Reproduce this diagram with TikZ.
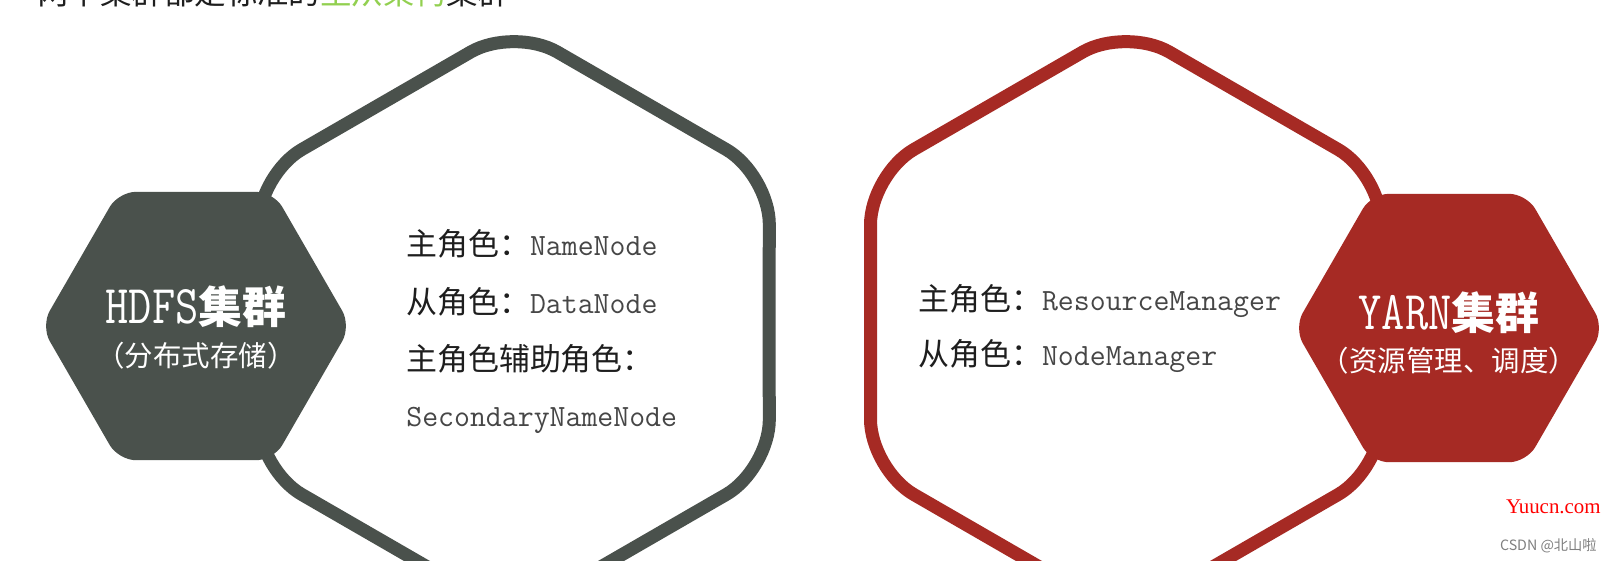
\documentclass[tikz,border=0pt]{standalone}
\usepackage{fontspec}
\setmainfont{Noto Sans CJK SC}
\newfontfamily\wmserif{Liberation Serif}

\definecolor{hdfsgray}{RGB}{74,81,76}
\definecolor{yarnred}{RGB}{166,42,36}
\definecolor{rolebk}{RGB}{30,30,30}
\definecolor{rolegray}{RGB}{70,70,70}
\definecolor{headgreen}{RGB}{146,208,80}
\definecolor{wmred}{RGB}{255,0,0}
\definecolor{wmgray}{RGB}{128,128,128}

\newcommand{\enrole}[1]{{\ttfamily\color{rolegray}#1}}
\newcommand{\entitle}[1]{\scalebox{0.95}[1.15]{\ttfamily\fontsize{27}{30}\selectfont #1}}

\begin{document}
\begin{tikzpicture}[x=0.02cm, y=0.02cm,
  roleline/.style={anchor=base west, text=rolebk, inner sep=0pt, font=\fontsize{17.6}{20}\selectfont},
  hextitle/.style={anchor=base, text=white, inner sep=0pt, font=\fontsize{25}{28}\selectfont},
  hexsub/.style={anchor=base, text=white, inner sep=0pt, font=\fontsize{16.2}{19}\selectfont}]

  % ---------------- frame ----------------
  \useasboundingbox (0,0) rectangle (1613,-561);
  \clip (0,0) rectangle (1613,-561);
  \fill[white] (0,0) rectangle (1613,-561);

  % heading, cut off by the top edge
  \node[anchor=base west, inner sep=0pt, text=rolebk, font=\fontsize{17.9}{20}\selectfont] (heading) at (37,-5)
    {两个集群都是标准的\textcolor{headgreen}{主从架构}集群};

  % ---------------- HDFS ----------------
  % big outline, pointy top
  \begin{scope}[shift={(514,-322)}]
    \draw[hdfsgray, line width=7.4pt, rounded corners=1cm] (255,0) \foreach \a in {30,90,...,330} { -- (\a:295) } -- cycle;
  \end{scope}
  % small filled badge, flat top
  \begin{scope}[shift={(196,-326)}]
    \fill[hdfsgray, rounded corners=0.35cm] (0,134) \foreach \a in {120,180,...,420} { -- (\a:155) } -- cycle;
  \end{scope}
  \node[hextitle] (hdfs) at (196,-323) {\entitle{HDFS}{\bfseries 集群}};
  \node[hexsub] (hdfssub) at (196,-366) {（分布式存储）};

  \node[roleline] (namenode) at (406,-255) {主角色：\enrole{NameNode}};
  \node[roleline] (datanode) at (406,-313) {从角色：\enrole{DataNode}};
  \node[roleline] (helper) at (406,-370) {主角色辅助角色：};
  \node[roleline] (secondary) at (406,-426) {\enrole{SecondaryNameNode}};

  % ---------------- YARN ----------------
  \begin{scope}[shift={(1126,-322)}]
    \draw[yarnred, line width=7.4pt, rounded corners=1cm] (255,0) \foreach \a in {30,90,...,330} { -- (\a:295) } -- cycle;
  \end{scope}
  \begin{scope}[shift={(1449,-328)}]
    \fill[yarnred, rounded corners=0.35cm] (0,134) \foreach \a in {120,180,...,420} { -- (\a:155) } -- cycle;
  \end{scope}
  \node[hextitle] (yarn) at (1449,-329) {\entitle{YARN}{\bfseries 集群}};
  \node[hexsub] (yarnsub) at (1449,-371) {（资源管理、调度）};

  \node[roleline] (resmanager) at (918,-310) {主角色：\enrole{ResourceManager}};
  \node[roleline] (nodemanager) at (918,-365) {从角色：\enrole{NodeManager}};

  % watermarks
  \node[anchor=base east, inner sep=0pt, text=wmred, font=\wmserif\fontsize{11.9}{13}\selectfont] (yuucn) at (1601,-513) {Yuucn.com};
  \node[anchor=base east, inner sep=0pt, text=wmgray, font=\fontsize{8.1}{9}\selectfont] (csdn) at (1597,-550) {CSDN @北山啦};

\end{tikzpicture}
\end{document}
